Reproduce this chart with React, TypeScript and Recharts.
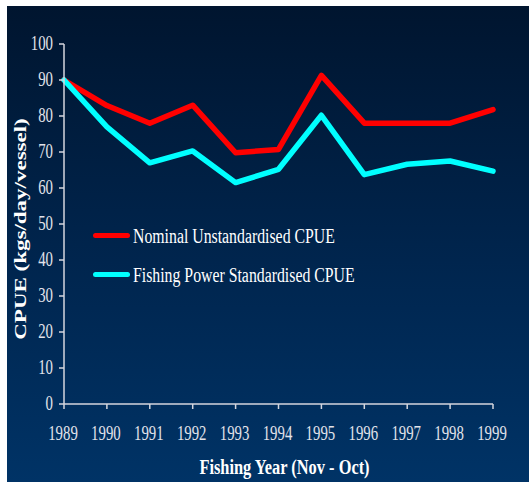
import React from 'react';
import { LineChart, Line, XAxis, YAxis, Legend, Label } from 'recharts';

// ---- data ----
const years = ['1989', '1990', '1991', '1992', '1993', '1994', '1995', '1996', '1997', '1998', '1999'];
const nominalCPUE = [90, 82.9, 78, 83, 69.8, 70.7, 91.3, 78, 78, 78, 81.8];
const standardisedCPUE = [90, 77, 67, 70.3, 61.5, 65.2, 80.2, 63.7, 66.6, 67.5, 64.7];
const yTicks = [0, 10, 20, 30, 40, 50, 60, 70, 80, 90, 100];
const nominalName = 'Nominal Unstandardised CPUE';
const standardisedName = 'Fishing Power Standardised CPUE';
const seriesOrder = ['nominal', 'standardised'];
const xTitle = 'Fishing Year (Nov - Oct)';
const yTitle = 'CPUE (kgs/day/vessel)';

const data = years.map((year, i) => ({
  year,
  nominal: nominalCPUE[i],
  standardised: standardisedCPUE[i],
}));

const FONT = '"Liberation Serif", "Times New Roman", serif';
const SX = 0.74;
const AXIS = '#d4d6de';
const TICKTXT = '#e2e3ea';

const YTick = (props: any) => {
  const { x, y, payload } = props;
  return (
    <g transform={`translate(${x},${y}) scale(${SX},1)`}>
      <text x={0} y={0} dy={5.5} textAnchor="end" fill={TICKTXT} fontSize={20} fontFamily={FONT}>
        {payload.value}
      </text>
    </g>
  );
};

const XTick = (props: any) => {
  const { x, y, payload } = props;
  return (
    <g transform={`translate(${x - 1},${y}) scale(${SX},1)`}>
      <text x={0} y={0} dy={31} textAnchor="middle" fill={TICKTXT} fontSize={20} fontFamily={FONT}>
        {payload.value}
      </text>
    </g>
  );
};

const XTitle = (props: any) => {
  const vb = props.viewBox || { x: 57, y: 398, width: 429, height: 78 };
  const cx = vb.x + vb.width / 2 + 6;
  const cy = vb.y + 70;
  return (
    <g transform={`translate(${cx},${cy}) scale(0.82,1)`}>
      <text x={0} y={0} textAnchor="middle" fill="#ffffff" fontSize={20} fontWeight="bold" fontFamily={FONT}>
        {xTitle}
      </text>
    </g>
  );
};

const YTitle = (props: any) => {
  const vb = props.viewBox || { x: 0, y: 38, width: 57, height: 360 };
  const cx = vb.x + 13;
  const cy = vb.y + vb.height / 2 + 5;
  return (
    <g transform={`translate(${cx},${cy}) scale(0.75,1) rotate(-90)`}>
      <text x={0} y={0} dy="0.33em" textAnchor="middle" fill="#ffffff" fontSize={23} fontWeight="bold" fontFamily={FONT}>
        {yTitle}
      </text>
    </g>
  );
};

const LegendContent = (props: any) => {
  const payload = [...(props.payload || [])].sort(
    (a: any, b: any) => seriesOrder.indexOf(a.dataKey) - seriesOrder.indexOf(b.dataKey)
  );
  return (
    <div style={{ fontFamily: FONT }}>
      {payload.map((entry: any, i: number) => (
        <div
          key={i}
          style={{ display: 'flex', alignItems: 'flex-start', height: 20, marginBottom: 19, whiteSpace: 'nowrap' }}
        >
          <span
            style={{
              display: 'inline-block',
              width: 37,
              height: 5,
              marginTop: 7,
              borderRadius: 3,
              background: entry.color,
            }}
          />
          <span
            style={{
              display: 'inline-block',
              marginLeft: 3,
              fontSize: 20,
              lineHeight: '20px',
              color: '#ffffff',
              transform: `scaleX(0.79)`,
              transformOrigin: 'left center',
            }}
          >
            {entry.value}
          </span>
        </div>
      ))}
    </div>
  );
};

export default function App() {
  return (
    <div
      style={{
        position: 'absolute',
        left: 7,
        top: 6,
        width: 522,
        height: 476,
        background: 'linear-gradient(to bottom, #00152f 0%, #00244c 50%, #003366 100%)',
      }}
    >
      <LineChart
        width={522}
        height={476}
        data={data}
        margin={{ top: 38, right: 36, left: 0, bottom: 0 }}
      >
        <XAxis
          dataKey="year"
          height={78}
          tick={<XTick />}
          tickSize={5}
          tickMargin={0}
          axisLine={{ stroke: AXIS, strokeWidth: 1.5 }}
          tickLine={{ stroke: AXIS, strokeWidth: 1.5 }}
          interval={0}
        >
          <Label content={<XTitle />} />
        </XAxis>
        <YAxis
          width={57}
          domain={[0, 100]}
          ticks={yTicks}
          tick={<YTick />}
          tickSize={5}
          tickMargin={6}
          axisLine={{ stroke: AXIS, strokeWidth: 1.5 }}
          tickLine={{ stroke: AXIS, strokeWidth: 1.5 }}
          interval={0}
        >
          <Label content={<YTitle />} />
        </YAxis>
        <Legend
          layout="horizontal"
          verticalAlign="middle"
          align="center"
          content={<LegendContent />}
          wrapperStyle={{ left: 86, top: 220, bottom: 'auto', right: 'auto', width: 'auto', height: 'auto' }}
        />
        <Line
          type="linear"
          dataKey="nominal"
          name={nominalName}
          stroke="#ff0000"
          strokeWidth={5.5}
          strokeLinecap="round"
          strokeLinejoin="round"
          dot={false}
          activeDot={false}
          isAnimationActive={false}
        />
        <Line
          type="linear"
          dataKey="standardised"
          name={standardisedName}
          stroke="#00ffff"
          strokeWidth={5.5}
          strokeLinecap="round"
          strokeLinejoin="round"
          dot={false}
          activeDot={false}
          isAnimationActive={false}
        />
      </LineChart>
    </div>
  );
}
